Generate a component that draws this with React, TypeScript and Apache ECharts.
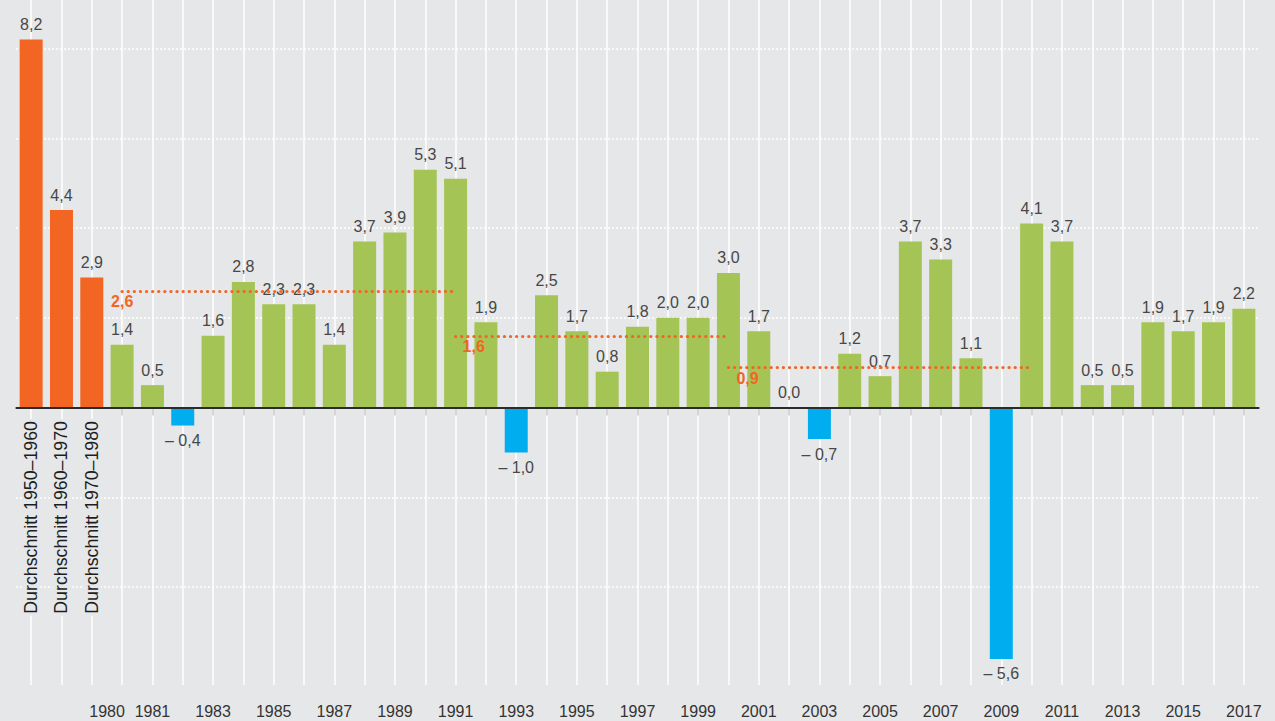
import React, { useEffect, useRef } from "react";
import * as echarts from "echarts";

const avgCategories = ["Durchschnitt 1950–1960", "Durchschnitt 1960–1970", "Durchschnitt 1970–1980"];
const avgValues = [8.2, 4.4, 2.9];
const years = [
  "1980", "1981", "1982", "1983", "1984", "1985", "1986", "1987", "1988", "1989",
  "1990", "1991", "1992", "1993", "1994", "1995", "1996", "1997", "1998", "1999",
  "2000", "2001", "2002", "2003", "2004", "2005", "2006", "2007", "2008", "2009",
  "2010", "2011", "2012", "2013", "2014", "2015", "2016", "2017",
];
const growth = [
  1.4, 0.5, -0.4, 1.6, 2.8, 2.3, 2.3, 1.4, 3.7, 3.9,
  5.3, 5.1, 1.9, -1.0, 2.5, 1.7, 0.8, 1.8, 2.0, 2.0,
  3.0, 1.7, 0.0, -0.7, 1.2, 0.7, 3.7, 3.3, 1.1, -5.6,
  4.1, 3.7, 0.5, 0.5, 1.9, 1.7, 1.9, 2.2,
];
const yearLabels = ["1980", "1981", "1983", "1985", "1987", "1989", "1991", "1993", "1995", "1997", "1999",
  "2001", "2003", "2005", "2007", "2009", "2011", "2013", "2015", "2017"];
const periodFrom = ["1980", "1991", "2000"];
const periodTo = ["1991", "2000", "2010"];
const periodValues = [2.6, 1.6, 0.9];
const periodLabelOffsets = [[-16, -2], [2, -2], [3, -2]];
const gridValues = [-4, -2, 2, 4, 6, 8];
const yMin = -6.18;
const yMax = 9.08;

const ORANGE = "#f26522";
const GREEN = "#a4c456";
const BLUE = "#00aeef";
const BG = "#e6e7e9";
const FONT = "'Liberation Sans', Arial, sans-serif";

const fmt = (v: number) => {
  const s = Math.abs(v).toFixed(1).replace(".", ",");
  return v < 0 ? "– " + s : s;
};

export default function App() {
  const ref = useRef<HTMLDivElement>(null);
  useEffect(() => {
    if (!ref.current) return;
    const chart = echarts.init(ref.current, undefined, { renderer: "svg" });
    const categories = [...avgCategories, ...years];
    const values = [...avgValues, ...growth];
    const data = values.map((v, i) => ({
      value: v,
      itemStyle: { color: i < avgCategories.length ? ORANGE : v < 0 ? BLUE : GREEN },
      label: { position: v < 0 ? "bottom" : "top" },
    }));

    chart.setOption({
      animation: false,
      backgroundColor: BG,
      textStyle: { fontFamily: FONT },
      grid: { left: 16, right: 16, top: 0, bottom: 36, containLabel: false },
      xAxis: [
        {
          type: "category",
          data: categories,
          position: "bottom",
          axisLine: { show: true, lineStyle: { color: "#2b2b2b", width: 1.5 } },
          axisTick: {
            show: true,
            alignWithLabel: true,
            length: 8,
            interval: (idx: number) => idx >= avgCategories.length,
            lineStyle: { color: "#2b2b2b", width: 1.5 },
          },
          axisLabel: {
            interval: 0,
            margin: 18,
            fontSize: 16,
            color: "#333",
            fontFamily: FONT,
            formatter: (val: string) => {
              if (!yearLabels.includes(val)) return "";
              if (val === "1980") return "{s|" + val + "}";
              return val;
            },
            rich: { s: { padding: [0, 30, 0, 0], fontSize: 16, color: "#333", fontFamily: FONT } },
          },
          splitLine: { show: false },
        },
        {
          type: "category",
          data: categories,
          position: "bottom",
          offset: -274,
          z: 10,
          axisLine: { show: false },
          axisTick: { show: false },
          axisLabel: {
            interval: 0,
            rotate: 90,
            margin: 8,
            fontSize: 17.8,
            color: "#1e1e1e",
            fontFamily: FONT,
            backgroundColor: BG,
            padding: [0, 2, 0, 2],
            formatter: (val: string) => (avgCategories.includes(val) ? val : ""),
          },
          splitLine: { show: false },
        },
      ],
      yAxis: {
        type: "value",
        min: yMin,
        max: yMax,
        show: false,
        splitLine: { show: false },
      },
      series: [
        {
          name: "grid",
          type: "line",
          data: [],
          z: 1,
          silent: true,
          markLine: {
            z: 1,
            silent: true,
            symbol: ["none", "none"],
            label: { show: false },
            data: [
              ...gridValues.map((g) => ({
                yAxis: g,
                lineStyle: { color: "#ffffff", width: 1.5, type: [2, 2] },
              })),
              ...categories.map((c) => ({
                xAxis: c,
                lineStyle: { color: "#ffffff", width: 1.5, type: "solid" },
              })),
            ],
          },
        },
        {
          name: "Wachstum",
          type: "bar",
          z: 3,
          barWidth: 23,
          data,
          label: {
            show: true,
            distance: 7,
            fontSize: 16,
            color: "#474747",
            fontFamily: FONT,
            formatter: (p: any) => fmt(p.value),
          },
          markLine: {
            z: 4,
            silent: true,
            symbol: ["none", "none"],
            label: { show: false },
            data: [
              {
                yAxis: 0,
                lineStyle: { color: "#2b2b2b", width: 1.8, type: "solid" },
              },
            ],
          },
        },
        {
          name: "Durchschnitt",
          type: "line",
          data: [],
          z: 5,
          markLine: {
            z: 5,
            silent: true,
            symbol: ["none", "none"],
            data: periodValues.map((v, i) => [
              {
                coord: [periodFrom[i], v],
                label: {
                  show: true,
                  position: "insideStartBottom",
                  formatter: fmt(v),
                  color: ORANGE,
                  fontWeight: "bold",
                  fontSize: 16,
                  fontFamily: FONT,
                  distance: 5,
                  offset: periodLabelOffsets[i],
                },
                lineStyle: { color: ORANGE, width: 3.2, type: [0.1, 6], cap: "round" },
              },
              { coord: [periodTo[i], v] },
            ]),
          },
        },
      ],
    });
    return () => chart.dispose();
  }, []);
  return (
    <div
      ref={ref}
      style={{ position: "fixed", left: 0, top: 0, width: 1275, height: 721 }}
    />
  );
}
